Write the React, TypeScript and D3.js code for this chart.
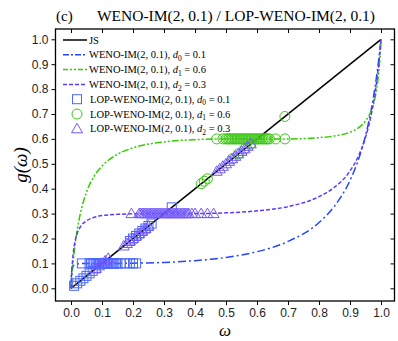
import React, { useEffect, useRef } from 'react';
import * as d3 from 'd3';

// omega samples and the three WENO-IM(2, 0.1) curves
const omega = [0, 0.001, 0.005, 0.01, 0.02, 0.03, 0.05, 0.075, 0.1, 0.15, 0.2, 0.3, 0.4, 0.5, 0.6, 0.7, 0.8, 0.85, 0.9, 0.93, 0.95, 0.97, 0.98, 0.99, 0.995, 0.999, 1];
const imD0 = [0, 0.051, 0.085, 0.093, 0.098, 0.099, 0.1, 0.1, 0.1, 0.1, 0.101, 0.104, 0.111, 0.124, 0.147, 0.188, 0.264, 0.33, 0.433, 0.527, 0.613, 0.728, 0.802, 0.891, 0.943, 0.988, 1];
const imD1 = [0, 0.017, 0.078, 0.141, 0.234, 0.299, 0.386, 0.451, 0.491, 0.538, 0.564, 0.588, 0.597, 0.6, 0.6, 0.6, 0.605, 0.612, 0.627, 0.647, 0.672, 0.718, 0.761, 0.836, 0.9, 0.975, 1];
const imD2 = [0, 0.031, 0.112, 0.167, 0.22, 0.246, 0.271, 0.285, 0.292, 0.297, 0.299, 0.3, 0.3, 0.303, 0.311, 0.328, 0.368, 0.406, 0.471, 0.539, 0.606, 0.707, 0.778, 0.871, 0.93, 0.985, 1];

const jsLine = [0, 1];

// LOP-WENO-IM markers: points on the diagonal and points on the plateau
const sqDiag = [0.01, 0.02, 0.03, 0.04, 0.05, 0.06, 0.07, 0.08, 0.19, 0.2, 0.21, 0.22, 0.23, 0.24, 0.25, 0.26, 0.325];
const sqFlat = [0.035, 0.06, 0.065, 0.07, 0.075, 0.08, 0.085, 0.09, 0.095, 0.1, 0.105, 0.11, 0.115, 0.12, 0.125, 0.13, 0.135, 0.14, 0.145, 0.15, 0.16, 0.175, 0.19, 0.2, 0.21];
const triDiag = [0.08, 0.09, 0.1, 0.11, 0.12, 0.17, 0.18, 0.19, 0.2, 0.21, 0.22, 0.23, 0.24, 0.25, 0.47, 0.48, 0.49, 0.5, 0.51, 0.52, 0.53, 0.54, 0.55, 0.56, 0.57, 0.58];
const triFlat = [0.195, 0.22, 0.225, 0.23, 0.235, 0.24, 0.245, 0.25, 0.255, 0.26, 0.265, 0.27, 0.275, 0.28, 0.285, 0.29, 0.295, 0.3, 0.305, 0.31, 0.315, 0.32, 0.325, 0.33, 0.335, 0.34, 0.345, 0.35, 0.355, 0.36, 0.365, 0.37, 0.375, 0.38, 0.39, 0.4, 0.42, 0.44, 0.46];
const cirDiag = [0.42, 0.43, 0.44, 0.52, 0.54, 0.56, 0.58, 0.69];
const cirFlat = [0.47, 0.49, 0.5, 0.505, 0.51, 0.515, 0.52, 0.525, 0.53, 0.535, 0.54, 0.545, 0.55, 0.555, 0.56, 0.565, 0.57, 0.575, 0.58, 0.585, 0.59, 0.595, 0.6, 0.605, 0.61, 0.615, 0.62, 0.625, 0.63, 0.635, 0.64, 0.66, 0.69];

const ticks = [0, 0.1, 0.2, 0.3, 0.4, 0.5, 0.6, 0.7, 0.8, 0.9, 1.0];

const C_D0 = '#2546ff';
const C_D1 = '#33cc00';
const C_D2 = '#5b3cff';
const C_SQ = '#4a66ff';
const C_CI = '#3cc814';
const C_TR = '#7358ff';

export default function App() {
  const svgRef = useRef(null);

  useEffect(() => {
    const svg = d3.select(svgRef.current);
    svg.selectAll('*').remove();

    const L = 55.5, R = 394.5, T = 29, B = 301;
    const x = d3.scaleLinear().domain([0, 1]).range([71, 381]);
    const y = d3.scaleLinear().domain([0, 1]).range([288.3, 39.3]);

    // title
    svg.append('text').attr('x', 56).attr('y', 21).attr('font-family', 'Liberation Serif').attr('font-size', 15).text('(c)');
    svg.append('text').attr('x', 236).attr('y', 21).attr('text-anchor', 'middle').attr('font-family', 'Liberation Serif').attr('font-size', 15.5)
      .text('WENO-IM(2, 0.1) / LOP-WENO-IM(2, 0.1)');

    // axes
    const axFont = (g) => g.selectAll('text').attr('font-family', 'Liberation Sans, Arial').attr('font-size', 12).attr('fill', '#222');
    svg.append('g').attr('transform', `translate(0,${B})`)
      .call(d3.axisBottom(x).tickValues(ticks).tickFormat(d3.format('.1f')).tickSize(4).tickPadding(3))
      .call(g => g.select('.domain').remove()).call(axFont);
    svg.append('g').attr('transform', `translate(${L},0)`)
      .call(d3.axisLeft(y).tickValues(ticks).tickFormat(d3.format('.1f')).tickSize(4).tickPadding(3))
      .call(g => g.select('.domain').remove()).call(axFont);
    svg.append('g').attr('transform', `translate(0,${T})`)
      .call(d3.axisBottom(x).tickValues(ticks).tickFormat(() => '').tickSize(4))
      .call(g => g.select('.domain').remove());
    svg.append('g').attr('transform', `translate(${R},0)`)
      .call(d3.axisLeft(y).tickValues(ticks).tickFormat(() => '').tickSize(4))
      .call(g => g.select('.domain').remove());
    svg.append('rect').attr('x', L).attr('y', T).attr('width', R - L).attr('height', B - T)
      .attr('fill', 'none').attr('stroke', '#000').attr('stroke-width', 1.3);

    // axis labels
    svg.append('text').attr('transform', 'translate(27,165) rotate(-90)').attr('text-anchor', 'middle')
      .attr('font-family', 'Liberation Serif').attr('font-style', 'italic').attr('font-size', 19).text('g(ω)');
    svg.append('text').attr('x', 225).attr('y', 336).attr('text-anchor', 'middle')
      .attr('font-family', 'Liberation Serif').attr('font-style', 'italic').attr('font-size', 17).text('ω');

    // curves
    const line = d3.line().x(d => x(d[0])).y(d => y(d[1])).curve(d3.curveMonotoneX);
    svg.append('path').attr('d', line(jsLine.map(v => [v, v]))).attr('fill', 'none').attr('stroke', '#000').attr('stroke-width', 1.5);

    const curves = [
      { vals: imD0, color: C_D0, dash: '8,3,2,3' },
      { vals: imD1, color: C_D1, dash: '7,2,2,2,2,2' },
      { vals: imD2, color: C_D2, dash: '4,2' },
    ];
    curves.forEach(c => {
      svg.append('path').attr('d', line(omega.map((w, i) => [w, c.vals[i]])))
        .attr('fill', 'none').attr('stroke', c.color).attr('stroke-width', 1.5).attr('stroke-dasharray', c.dash);
    });

    // markers
    const sym = (g, type, color, px, py) => {
      if (type === 'sq') {
        g.append('rect').attr('x', px - 4.5).attr('y', py - 4.5).attr('width', 9).attr('height', 9)
          .attr('fill', 'none').attr('stroke', color).attr('stroke-width', 1);
      } else if (type === 'ci') {
        g.append('circle').attr('cx', px).attr('cy', py).attr('r', 5)
          .attr('fill', 'none').attr('stroke', color).attr('stroke-width', 1);
      } else {
        g.append('path').attr('d', `M${px},${py - 5.5}L${px + 5.5},${py + 4}L${px - 5.5},${py + 4}Z`)
          .attr('fill', 'none').attr('stroke', color).attr('stroke-width', 1);
      }
    };
    const mk = svg.append('g');
    sqDiag.forEach(w => sym(mk, 'sq', C_SQ, x(w), y(w)));
    sqFlat.forEach(w => sym(mk, 'sq', C_SQ, x(w), y(0.1)));
    cirDiag.forEach(w => sym(mk, 'ci', C_CI, x(w), y(w)));
    cirFlat.forEach(w => sym(mk, 'ci', C_CI, x(w), y(0.6)));
    triDiag.forEach(w => sym(mk, 'tr', C_TR, x(w), y(w)));
    triFlat.forEach(w => sym(mk, 'tr', C_TR, x(w), y(0.3)));

    // legend
    const lg = svg.append('g').attr('font-family', 'Liberation Serif').attr('font-size', 10.5);
    const rows = [
      { kind: 'line', color: '#000', dash: null, pre: 'JS' },
      { kind: 'line', color: C_D0, dash: '6,2,2,2', pre: 'WENO-IM(2, 0.1), ', sub: '0', val: ' = 0.1' },
      { kind: 'line', color: C_D1, dash: '5,2,2,2,2,2', pre: 'WENO-IM(2, 0.1), ', sub: '1', val: ' = 0.6' },
      { kind: 'line', color: C_D2, dash: '4,2', pre: 'WENO-IM(2, 0.1), ', sub: '2', val: ' = 0.3' },
      { kind: 'sq', color: C_SQ, pre: 'LOP-WENO-IM(2, 0.1), ', sub: '0', val: ' = 0.1' },
      { kind: 'ci', color: C_CI, pre: 'LOP-WENO-IM(2, 0.1), ', sub: '1', val: ' = 0.6' },
      { kind: 'tr', color: C_TR, pre: 'LOP-WENO-IM(2, 0.1), ', sub: '2', val: ' = 0.3' },
    ];
    rows.forEach((r, i) => {
      const cy = 40 + i * 14.8;
      if (r.kind === 'line') {
        lg.append('line').attr('x1', 63).attr('x2', 87).attr('y1', cy).attr('y2', cy)
          .attr('stroke', r.color).attr('stroke-width', 1.5).attr('stroke-dasharray', r.dash);
      } else {
        sym(lg, r.kind, r.color, 77, cy);
      }
      const t = lg.append('text').attr('x', r.kind === 'line' ? 89 : 90).attr('y', cy + 3.6);
      t.append('tspan').text(r.pre);
      if (r.sub) {
        t.append('tspan').attr('font-style', 'italic').text('d');
        t.append('tspan').attr('font-size', 7.5).attr('dy', 2.5).text(r.sub);
        t.append('tspan').attr('dy', -2.5).text(r.val);
      }
    });
  }, []);

  return (
    <div style={{ position: 'fixed', left: 0, top: 0, background: '#fff' }}>
      <svg ref={svgRef} width={398} height={341}></svg>
    </div>
  );
}
